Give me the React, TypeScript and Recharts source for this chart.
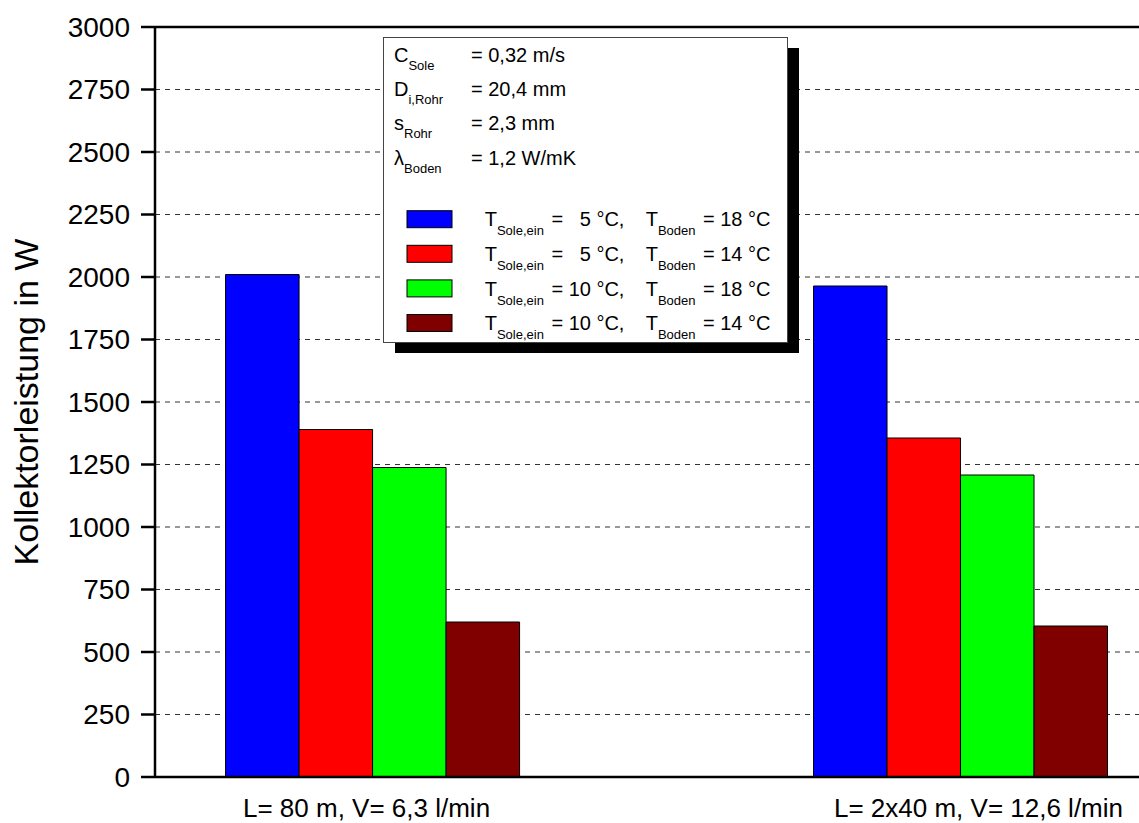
import React from "react";
import { BarChart, Bar, XAxis, YAxis, CartesianGrid, Legend } from "recharts";

// Kategorien (Rohrlänge / Volumenstrom)
const categories = ["L= 80 m, V= 6,3 l/min", "L= 2x40 m, V= 12,6 l/min"];
const xPositions = [1, 2];

// Kollektorleistung in W
const sole5Boden18 = [2010, 1964];
const sole5Boden14 = [1390, 1356];
const sole10Boden18 = [1238, 1208];
const sole10Boden14 = [620, 604];

const yTicks = [0, 250, 500, 750, 1000, 1250, 1500, 1750, 2000, 2250, 2500, 2750, 3000];

const params = [
  { sym: "C", sub: "Sole", value: "= 0,32 m/s" },
  { sym: "D", sub: "i,Rohr", value: "= 20,4 mm" },
  { sym: "s", sub: "Rohr", value: "= 2,3 mm" },
  { sym: "λ", sub: "Boden", value: "= 1,2 W/mK" },
];

const series = [
  { key: "s5b18", values: sole5Boden18, color: "#0000ff", sole: "=   5 °C,", boden: "= 18 °C" },
  { key: "s5b14", values: sole5Boden14, color: "#ff0000", sole: "=   5 °C,", boden: "= 14 °C" },
  { key: "s10b18", values: sole10Boden18, color: "#00ff00", sole: "= 10 °C,", boden: "= 18 °C" },
  { key: "s10b14", values: sole10Boden14, color: "#800000", sole: "= 10 °C,", boden: "= 14 °C" },
];

const X_DOMAIN: [number, number] = [0.63, 2.307];
const LABEL_SHIFT = [-6, 18]; // Beschriftung leicht versetzt wie im Original
const FONT = "Arial, 'Liberation Sans', sans-serif";

const rows = xPositions.map((x, i) => {
  const row: Record<string, number | string> = { x, label: categories[i] };
  series.forEach((s) => (row[s.key] = s.values[i]));
  return row;
});

// Legende als Kasten mit Schatten, Parameter oben
const ParamLegend = (props: any) => {
  const items = props.payload || [];
  return (
    <svg width={420} height={322} style={{ display: "block", fontFamily: FONT }}>
      <rect x={12} y={11} width={404} height={305} fill="#000" />
      <rect x={0.5} y={0.5} width={404} height={305} fill="#fff" stroke="#444" />
      {params.map((p, i) => (
        <g key={p.sym}>
          <text x={11} y={25 + i * 34.2} fontSize={20} fill="#000">
            {p.sym}
            <tspan fontSize={13} dy={8}>{p.sub}</tspan>
          </text>
          <text x={88} y={25 + i * 34.2} fontSize={20} fill="#000">{p.value}</text>
        </g>
      ))}
      {series.map((meta, i) => {
        const entry = items.find((e: any) => e.dataKey === meta.key);
        const y = 189.4 + i * 34.6;
        return (
          <g key={meta.key}>
            <rect x={24} y={y - 15.7} width={45} height={17} fill={entry ? entry.color : meta.color} stroke="#000" strokeWidth={1} />
            <text x={101.7} y={y} fontSize={20} fill="#000">
              T<tspan fontSize={13} dy={9}>Sole,ein</tspan>
            </text>
            <text x={168.4} y={y} fontSize={20} fill="#000" xmlSpace="preserve" style={{ whiteSpace: "pre" }}>
              {meta.sole}
            </text>
            <text x={262.7} y={y} fontSize={20} fill="#000">
              T<tspan fontSize={13} dy={9}>Boden</tspan>
            </text>
            <text x={320} y={y} fontSize={20} fill="#000">{meta.boden}</text>
          </g>
        );
      })}
    </svg>
  );
};

const CategoryTick = (props: any) => {
  const { x, y, payload } = props;
  const i = xPositions.indexOf(payload.value);
  return (
    <text x={x + (LABEL_SHIFT[i] || 0)} y={y} dy={18.5} textAnchor="middle" fontSize={26} fill="#000" fontFamily={FONT}>
      {categories[i]}
    </text>
  );
};

export default function App() {
  return (
    <div style={{ width: 1139, height: 823, fontFamily: FONT }}>
      <style>{"body{margin:0}"}</style>
      <BarChart
        width={1139}
        height={823}
        data={rows}
        margin={{ top: 26, right: -3, bottom: 0, left: 0 }}
        barSize={73.5}
        barGap={0}
      >
        <CartesianGrid vertical={false} stroke="#333" strokeWidth={1.2} strokeDasharray="5 5" />

        <XAxis
          dataKey="x"
          type="number"
          domain={X_DOMAIN}
          allowDataOverflow
          ticks={xPositions}
          interval={0}
          height={46}
          tickSize={0}
          tickMargin={21}
          tickLine={false}
          axisLine={{ stroke: "#000", strokeWidth: 2.5 }}
          tick={<CategoryTick />}
        />
        <XAxis
          xAxisId="top"
          orientation="top"
          type="number"
          domain={X_DOMAIN}
          allowDataOverflow
          height={1}
          tick={false}
          tickLine={false}
          axisLine={{ stroke: "#000", strokeWidth: 2.5 }}
        />

        <YAxis
          domain={[0, 3000]}
          ticks={yTicks}
          interval={0}
          width={155}
          tickSize={14}
          tickMargin={11}
          axisLine={{ stroke: "#000", strokeWidth: 2.5 }}
          tickLine={{ stroke: "#000", strokeWidth: 2.5 }}
          tick={{ fontSize: 28, fill: "#000", fontFamily: FONT }}
          label={{
            value: "Kollektorleistung in W",
            angle: -90,
            position: "insideLeft",
            offset: 26,
            style: { textAnchor: "middle", fontSize: 34, fill: "#000", fontFamily: FONT },
          }}
        />
        <YAxis
          yAxisId="right"
          orientation="right"
          domain={[0, 3000]}
          ticks={yTicks}
          interval={0}
          width={1}
          tickSize={-7}
          tickFormatter={() => ""}
          axisLine={false}
          tickLine={{ stroke: "#000", strokeWidth: 2.5 }}
        />

        <Legend
          layout="vertical"
          align="center"
          verticalAlign="middle"
          content={<ParamLegend />}
          wrapperStyle={{ left: 383, top: 37, width: 420, height: 322 }}
        />

        {series.map((s) => (
          <Bar
            key={s.key}
            dataKey={s.key}
            fill={s.color}
            stroke="#000"
            strokeWidth={1}
            isAnimationActive={false}
          />
        ))}
      </BarChart>
    </div>
  );
}
